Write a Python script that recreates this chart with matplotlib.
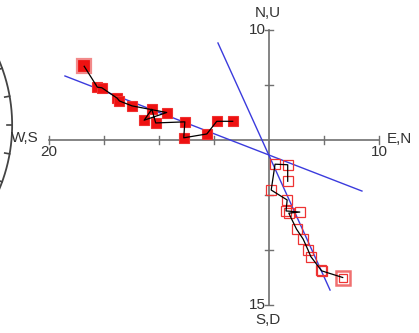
import numpy as np
import matplotlib
matplotlib.use("Agg")
import matplotlib.pyplot as plt

plt.rcParams["font.family"] = ["Liberation Sans", "DejaVu Sans"]

# demagnetisation steps (first = NRM), units on the plot scale
east = [-16.8, -15.6, -15.2, -13.8, -13.6, -12.45, -9.3, -11.35, -10.65, -10.3,
        -7.65, -7.75, -5.65, -4.75, -3.3]
north = [6.7, 4.8, 4.75, 3.8, 3.55, 3.1, 2.5, 1.8, 2.8, 1.55,
         1.65, 0.2, 0.55, 1.7, 1.7]
up = [-12.5, -11.9, -11.85, -10.6, -10.0, -9.0, -8.1, -6.65, -6.55, -6.45,
      -5.45, -4.55, -2.2, -2.25, -3.75]

# PCA fit lines (start / end)
fit_h_x = [-18.55, 8.45]
fit_h_y = [5.82, -4.64]
fit_v_x = [-4.64, 5.55]
fit_v_y = [8.82, -13.64]

# axis extents and labels
x_min, x_max = -20, 10
y_min, y_max = -15, 10
tick_step = 5

AX_COL = "#707070"
RED = "#ee1111"
BLUE = "#3b3bdd"

fig = plt.figure(figsize=(4.19, 3.33), dpi=100)
ax = fig.add_axes([0, 0, 1, 1])
ax.set_xlim(-269 / 11, 150 / 11)
ax.set_ylim(-193 / 11, 140 / 11)
ax.axis("off")

# cross axes
ax.plot([x_min, x_max], [0, 0], color=AX_COL, lw=1.2, zorder=1)
ax.plot([0, 0], [y_min, y_max], color=AX_COL, lw=1.2, zorder=1)
tl = 0.33
for t in np.arange(x_min, x_max + 1, tick_step):
    if t != 0:
        ax.plot([t, t], [-tl, tl], color=AX_COL, lw=1.0, zorder=1)
for t in np.arange(y_min, y_max + 1, tick_step):
    if t != 0:
        ax.plot([-tl, tl], [t, t], color=AX_COL, lw=1.0, zorder=1)

fs = 11
txt = "#333333"
ax.text(-0.1, y_max + 0.9, "N,U", ha="center", va="bottom", fontsize=fs, color=txt)
ax.text(-0.3, y_max, str(y_max), ha="right", va="center", fontsize=fs, color=txt)
ax.text(-0.3, y_min, str(-y_min), ha="right", va="center", fontsize=fs, color=txt)
ax.text(-0.1, y_min - 0.75, "S,D", ha="center", va="top", fontsize=fs, color=txt)
ax.text(x_max + 0.7, 0.1, "E,N", ha="left", va="center", fontsize=fs, color=txt)
ax.text(x_max, -0.5, str(x_max), ha="center", va="top", fontsize=fs, color=txt)
ax.text(x_min - 0.95, 0.15, "W,S", ha="right", va="center", fontsize=fs, color=txt)
ax.text(x_min, -0.5, str(-x_min), ha="center", va="top", fontsize=fs, color=txt)

# part of the stereonet primitive circle at the left edge
cx, cy, r = -38.45, 1.36, 15.1
th = np.linspace(-0.5, 0.5, 200)
ax.plot(cx + r * np.cos(th), cy + r * np.sin(th), color="#444444", lw=1.3, zorder=1)
for a in np.deg2rad([-20, -10, 0, 10, 20]):
    ax.plot([cx + r * np.cos(a), cx + (r - 0.45) * np.cos(a)],
            [cy + r * np.sin(a), cy + (r - 0.45) * np.sin(a)],
            color="#444444", lw=1.2, zorder=1)

# fit lines
ax.plot(fit_h_x, fit_h_y, color=BLUE, lw=1.0, zorder=1.5)
ax.plot(fit_v_x, fit_v_y, color=BLUE, lw=1.0, zorder=1.5)

# horizontal projection (E, N): filled squares
ax.plot(east[1:], north[1:], "s", ms=6.8, mfc=RED, mec="#f03030", mew=0.8, zorder=2)
ax.plot(east[:1], north[:1], "s", ms=9.5, mfc=RED, mec="#f28a8a", mew=1.6, zorder=2)
ax.plot(east, north, color="black", lw=0.9, zorder=4)

# vertical projection (N, Up): open squares
ax.plot(north[1:], up[1:], "s", ms=6.8, mfc="none", mec="#ee3333", mew=0.9, zorder=2)
ax.plot(north[:1], up[:1], "s", ms=10, mfc="none", mec="#f07070", mew=1.8, zorder=2)
ax.plot(north[:1], up[:1], "s", ms=5.5, mfc="none", mec="#ee3333", mew=0.9, zorder=2)
ax.plot(north, up, color="black", lw=0.9, zorder=4)

fig.savefig("out.png", dpi=100)
